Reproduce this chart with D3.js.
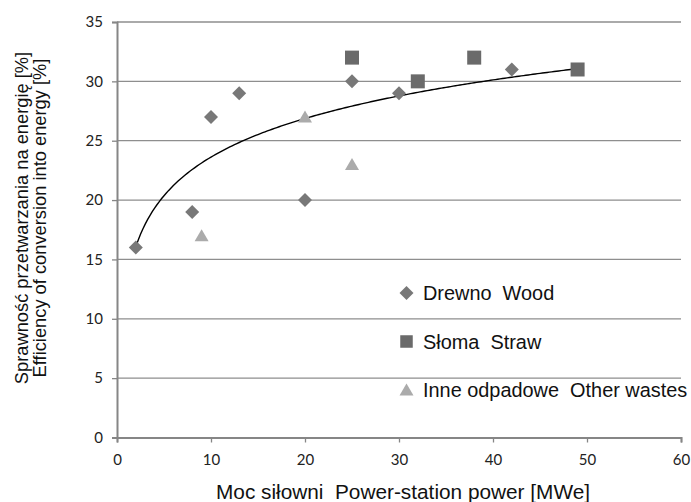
<!DOCTYPE html>
<html>
<head>
    <meta charset="utf-8">
    <title>Efficiency vs power</title>
    <script src="https://cdn.jsdelivr.net/npm/d3@7/dist/d3.min.js"></script>
    <style>
        body { margin: 0; background: #fff; }
        svg { display: block; }
        text { white-space: pre; }
    </style>
</head>
<body>
    <script>
        // values
        var woodX = [2, 8, 10, 13, 20, 25, 30, 42];
        var woodY = [16, 19, 27, 29, 20, 30, 29, 31];
        var strawX = [25, 32, 38, 49];
        var strawY = [32, 30, 32, 31];
        var otherX = [9, 20, 25];
        var otherY = [17, 27, 23];
        var xTicks = [0, 10, 20, 30, 40, 50, 60];
        var yTicks = [0, 5, 10, 15, 20, 25, 30, 35];
        // logarithmic trendline y = a*ln(x) + b
        var trendA = 4.69;
        var trendB = 12.82;
        var trendRange = [2, 49];
        var legendNames = ["Drewno  Wood", "Słoma  Straw", "Inne odpadowe  Other wastes"];

        var width = 691, height = 502;
        var font = "'Liberation Sans', Arial, sans-serif";
        var svg = d3.select("body").append("svg")
            .attr("width", width)
            .attr("height", height);

        var x = d3.scaleLinear().domain([0, 60]).range([117, 681]);
        var y = d3.scaleLinear().domain([0, 35]).range([437.5, 22]);

        // gridlines
        svg.append("g")
            .selectAll("line")
            .data(yTicks.slice(1))
            .join("line")
            .attr("x1", x(0))
            .attr("x2", x(60))
            .attr("y1", d => y(d))
            .attr("y2", d => y(d))
            .style("stroke", "#8e8e8e")
            .style("stroke-width", 1.3);

        var xAxis = svg.append("g")
            .attr("transform", "translate(0," + y(0) + ")")
            .call(d3.axisBottom(x).tickValues(xTicks).tickSize(5).tickPadding(12));
        var yAxis = svg.append("g")
            .attr("transform", "translate(" + x(0) + ",0)")
            .call(d3.axisLeft(y).tickValues(yTicks).tickSize(5).tickPadding(9));

        [xAxis, yAxis].forEach(function (ax) {
            ax.select(".domain").style("stroke", "#868686").style("stroke-width", 2);
            ax.selectAll(".tick line").style("stroke", "#868686").style("stroke-width", 1.3);
            ax.selectAll(".tick text")
                .style("font-family", "Lato, 'Open Sans', sans-serif")
                .style("font-size", "15px")
                .style("fill", "#222");
        });

        // trendline
        var trendPts = d3.range(trendRange[0], trendRange[1] + 0.001, 0.25)
            .map(v => [v, trendA * Math.log(v) + trendB]);
        svg.append("path")
            .datum(trendPts)
            .attr("d", d3.line().x(d => x(d[0])).y(d => y(d[1])))
            .style("fill", "none")
            .style("stroke", "#000")
            .style("stroke-width", 1.4);

        var diamond = d3.symbol().type(d3.symbolSquare).size(98);
        function drawDiamond(g, cx, cy) {
            g.append("path")
                .attr("d", diamond())
                .attr("transform", "translate(" + cx + "," + cy + ") rotate(45)")
                .style("fill", "#787878");
        }
        function drawSquare(g, cx, cy, s) {
            g.append("rect")
                .attr("x", cx - s / 2)
                .attr("y", cy - s / 2)
                .attr("width", s)
                .attr("height", s)
                .style("fill", "#6a6a6a");
        }
        function drawTriangle(g, cx, cy) {
            g.append("path")
                .attr("d", "M" + cx + "," + (cy - 6.5) + "L" + (cx + 7) + "," + (cy + 5.5) + "L" + (cx - 7) + "," + (cy + 5.5) + "Z")
                .style("fill", "#ababab");
        }

        var marks = svg.append("g");
        otherX.forEach((v, i) => drawTriangle(marks, x(v), y(otherY[i])));
        strawX.forEach((v, i) => drawSquare(marks, x(v), y(strawY[i]), 14));
        woodX.forEach((v, i) => drawDiamond(marks, x(v), y(woodY[i])));

        // legend inside the plot
        var legend = svg.append("g");
        var legY = [293, 341.5, 390];
        drawDiamond(legend, 406.5, legY[0]);
        drawSquare(legend, 406.5, legY[1], 12.5);
        drawTriangle(legend, 406.5, legY[2]);
        legend.selectAll("text")
            .data(legendNames)
            .join("text")
            .attr("x", 423)
            .attr("y", (d, i) => legY[i] + 7)
            .text(d => d)
            .style("font-family", font)
            .style("font-size", "19.9px")
            .style("fill", "#111");

        // axis titles
        svg.append("text")
            .attr("x", 216)
            .attr("y", 499)
            .attr("textLength", 374)
            .attr("lengthAdjust", "spacingAndGlyphs")
            .text("Moc siłowni  Power-station power [MWe]")
            .style("font-family", font)
            .style("font-size", "20.5px")
            .style("fill", "#111");

        var yTitle = svg.append("text")
            .attr("transform", "translate(0,218) rotate(-90)")
            .attr("text-anchor", "middle")
            .style("font-family", font)
            .style("font-size", "18.3px")
            .style("fill", "#111");
        yTitle.append("tspan").attr("x", 0).attr("y", 28).text("Sprawność przetwarzania na energię [%]");
        yTitle.append("tspan").attr("x", 0).attr("y", 45.5).text("Efficiency of conversion into energy [%]");
    </script>
</body>
</html>
